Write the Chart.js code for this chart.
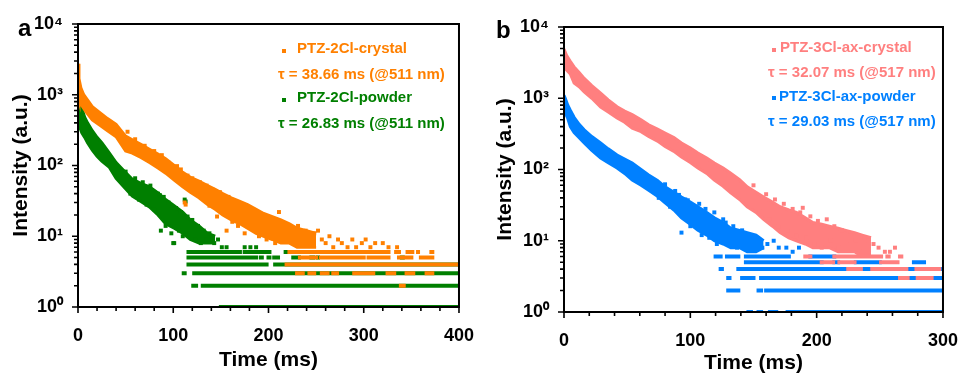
<!DOCTYPE html>
<html>
<head>
<meta charset="utf-8">
<script src="https://cdn.jsdelivr.net/npm/chart.js@4.4.1/dist/chart.umd.min.js"></script>
<style>
  body { margin: 0; width: 968px; height: 376px; background: #fff; position: relative; overflow: hidden; font-family: "Liberation Sans", Arial, sans-serif; }
  canvas { position: absolute; top: 0; }
  .lbl { position: absolute; font-weight: bold; font-size: 15px; line-height: 17px; white-space: nowrap; }
  .mk { position: absolute; width: 4px; height: 4px; }
  .panel { position: absolute; font-weight: bold; font-size: 24px; line-height: 24px; }
</style>
</head>
<body>
<canvas id="chartA" width="484" height="376" style="left:0"></canvas>
<canvas id="chartB" width="484" height="376" style="left:484px"></canvas>

<div class="panel" style="left:18px; top:16px">a</div>
<div class="panel" style="left:496px; top:18px">b</div>

<div class="mk" style="left:282px; top:49px; background:#ff8000"></div>
<div class="lbl" style="left:297px; top:39px; color:#ff8000">PTZ-2Cl-crystal</div>
<div class="lbl" style="left:278px; top:65px; color:#ff8000">τ = 38.66 ms (@511 nm)</div>
<div class="mk" style="left:282px; top:98px; background:#007f00"></div>
<div class="lbl" style="left:297px; top:88px; color:#007f00">PTZ-2Cl-powder</div>
<div class="lbl" style="left:278px; top:114px; color:#007f00">τ = 26.83 ms (@511 nm)</div>

<div class="mk" style="left:772px; top:48px; background:#ff7f7f"></div>
<div class="lbl" style="left:780px; top:38px; color:#ff7f7f">PTZ-3Cl-ax-crystal</div>
<div class="lbl" style="left:768px; top:63px; color:#ff7f7f">τ = 32.07 ms (@517 nm)</div>
<div class="mk" style="left:772px; top:96px; background:#0080ff"></div>
<div class="lbl" style="left:779px; top:87px; color:#0080ff">PTZ-3Cl-ax-powder</div>
<div class="lbl" style="left:768px; top:112px; color:#0080ff">τ = 29.03 ms (@517 nm)</div>

<script>
// panel a: PTZ-2Cl
const crystalATime  = [0, 1, 3, 6, 9, 15, 23, 31, 40, 50, 57, 66, 75, 84, 92, 101, 110, 118, 127, 136, 144, 152, 161, 170, 178, 187, 195, 204, 213, 222, 230, 240, 250];
const crystalAUpper = [2750, 1700, 1250, 1000, 880, 680, 560, 460, 380, 260, 230, 200, 170, 145, 125, 100, 80, 68, 60, 52, 46, 40, 35, 31, 28, 24, 21, 19, 17, 15, 13, 12, 11];
const crystalALower = [970, 850, 740, 640, 560, 440, 370, 310, 255, 160, 150, 130, 110, 92, 78, 62, 50, 42, 35, 28, 24, 20, 17, 15, 13, 11, 10, 9, 8, 8, 7, 7, 7];
const crystalAScatter = [[52, 300], [60, 235], [70, 190], [80, 160], [88, 140], [95, 110], [104, 98], [108, 88], [112, 30], [113, 28], [115, 72], [120, 66], [124, 41], [128, 58], [131, 35], [135, 52], [138, 27], [141, 46], [146, 19], [149, 42], [153, 24], [156, 12], [158, 36], [162, 16], [165, 31], [168, 14], [172, 27], [175, 11], [179, 25], [183, 13], [186, 22], [190, 10], [194, 19], [198, 9], [203, 17], [207, 8], [211, 22], [214, 15], [218, 9], [222, 13], [226, 8], [231, 14], [235, 9], [239, 12], [243, 8], [248, 11], [252, 12], [256, 9], [260, 8], [264, 10], [268, 7], [273, 9], [277, 8], [283, 7], [288, 9], [292, 7], [298, 8], [302, 9], [307, 7], [312, 8], [320, 8], [326, 7], [335, 7]];
const crystalALevels = [[6, 222, 258], [6, 260, 275], [6, 279, 299], [6, 301, 326], [6, 334, 337], [6, 346, 351], [6, 357, 358], [6, 371, 372],
  [5, 233, 250], [5, 255, 300], [5, 305, 326], [5, 337, 350], [5, 360, 372],
  [4, 219, 232], [4, 236, 250], [4, 253, 265], [4, 268, 290], [4, 292, 334], [4, 337, 352], [4, 355, 400],
  [3, 230, 236], [3, 243, 248], [3, 256, 262], [3, 268, 272], [3, 290, 310], [3, 325, 332], [3, 345, 352], [3, 366, 372],
  [2, 339, 342]];

const powderATime  = [0, 1, 2, 4, 7, 10, 15, 20, 25, 33, 40, 48, 57, 66, 75, 84, 92, 101, 110, 118, 127, 136, 144];
const powderAUpper = [1200, 1000, 900, 650, 480, 400, 310, 250, 210, 150, 110, 85, 64, 56, 50, 41, 33, 27, 22, 17, 14, 11, 10];
const powderALower = [600, 420, 340, 290, 250, 210, 165, 135, 115, 94, 66, 50, 37, 31, 26, 20, 15, 13, 11, 9, 8, 8, 8];
const powderAScatter = [[50, 82], [55, 40], [60, 66], [64, 33], [68, 58], [72, 28], [76, 52], [80, 24], [84, 40], [86, 38], [87, 12], [90, 36], [92, 14], [95, 30], [98, 11], [100, 8], [101, 8], [103, 25], [106, 12], [108, 22], [110, 10], [112, 33], [113, 31], [115, 19], [117, 11], [120, 17], [123, 9], [126, 14], [129, 8], [132, 12], [135, 9], [138, 11], [140, 10], [143, 8], [147, 9], [151, 7], [156, 7], [175, 7], [181, 7], [187, 7]];
const powderALevels = [[6, 116, 161], [6, 164, 170], [6, 175, 196], [6, 200, 201], [6, 218, 219], [6, 276, 277], [6, 286, 287],
  [5, 116, 171], [5, 174, 187], [5, 192, 193], [5, 200, 201], [5, 206, 210], [5, 226, 232], [5, 245, 247], [5, 252, 253], [5, 340, 341],
  [4, 116, 117], [4, 121, 198], [4, 207, 400],
  [3, 111, 112], [3, 122, 400],
  [2, 121, 124], [2, 131, 139], [2, 142, 400],
  [1, 150, 400]];

// panel b: PTZ-3Cl-ax
const crystalBTime  = [0, 2, 5, 8, 12, 16, 22, 29, 35, 42, 48, 54, 61, 67, 74, 80, 87, 93, 100, 106, 113, 119, 126, 132, 139, 145, 152, 158, 165, 171, 178, 184, 191, 197, 204, 210, 217, 223, 230, 236, 243];
const crystalBUpper = [4900, 4000, 3300, 2750, 2300, 1900, 1500, 1180, 950, 760, 660, 590, 500, 425, 370, 325, 280, 235, 200, 170, 145, 123, 105, 89, 72, 57, 48, 41, 35, 30, 27, 25, 21, 18, 17, 16, 15, 14, 13, 12, 11];
const crystalBLower = [2750, 2500, 2200, 1630, 1450, 1230, 1000, 750, 640, 530, 460, 380, 340, 290, 250, 210, 180, 150, 125, 105, 88, 71, 58, 47, 38, 30, 25, 20, 16, 13, 11, 10, 9, 8, 8, 8, 7, 7, 7, 6, 6];
const crystalBScatter = [[150, 60], [155, 26], [160, 45], [163, 20], [167, 38], [170, 16], [174, 33], [177, 14], [181, 28], [184, 12], [187, 25], [189, 29], [192, 11], [195, 22], [198, 9], [201, 19], [204, 8], [208, 20], [211, 10], [214, 16], [217, 8], [220, 14], [224, 9], [227, 12], [231, 10], [234, 8], [238, 11], [241, 9], [245, 9], [249, 8], [254, 7], [258, 7], [262, 8]];
const crystalBLevels = [[6, 191, 195], [6, 214, 251], [6, 256, 257], [6, 266, 267],
  [5, 204, 213], [5, 218, 230], [5, 251, 264],
  [4, 225, 235], [4, 244, 255], [4, 257, 271], [4, 279, 286], [4, 288, 297],
  [3, 266, 272], [3, 280, 291]];

const powderBTime  = [0, 1, 3, 5, 8, 12, 16, 22, 29, 35, 42, 48, 54, 61, 67, 74, 80, 87, 93, 100, 106, 113, 119, 126, 132, 139, 145, 152, 158];
const powderBUpper = [1100, 1000, 800, 680, 540, 430, 360, 290, 235, 195, 160, 140, 123, 100, 84, 70, 57, 48, 41, 35, 30, 25, 21, 18, 15, 14, 13, 12, 10];
const powderBLower = [680, 620, 520, 400, 330, 280, 235, 185, 145, 125, 105, 88, 71, 60, 51, 42, 34, 27, 21, 17, 14, 12, 10, 9, 8, 8, 7, 7, 8];
const powderBScatter = [[70, 72], [75, 40], [80, 62], [84, 30], [88, 50], [91, 44], [93, 13], [96, 38], [98, 37], [100, 16], [104, 20], [107, 33], [109, 12], [112, 28], [115, 11], [119, 25], [121, 9], [124, 13], [126, 20], [128, 18], [131, 9], [134, 16], [137, 8], [141, 14], [145, 11], [148, 8], [153, 11], [157, 8], [161, 9], [166, 10], [170, 8], [176, 8], [181, 7], [186, 8]];
const powderBLevels = [[6, 120, 124], [6, 129, 133], [6, 135, 138], [6, 144, 170], [6, 173, 178], [6, 195, 214],
  [5, 144, 204], [5, 214, 217], [5, 231, 250], [5, 277, 285],
  [4, 124, 125], [4, 138, 146], [4, 148, 169], [4, 172, 195], [4, 196, 209], [4, 210, 222], [4, 225, 300],
  [3, 130, 131], [3, 141, 150], [3, 156, 300],
  [2, 130, 138], [2, 154, 156], [2, 160, 163], [2, 166, 174], [2, 177, 300],
  [1, 146, 148], [1, 154, 156], [1, 163, 168], [1, 177, 183], [1, 186, 300]];

const yTickValues = [1, 10, 100, 1000, 10000];
const yTickLabels = ['10⁰', '10¹', '10²', '10³', '10⁴'];

Chart.defaults.font.family = '"Liberation Sans", Arial, sans-serif';
Chart.defaults.color = '#000';

function bandSets(time, upper, lower, color, order) {
  return [
    { data: time.map((t, i) => ({ x: t, y: upper[i] })), borderColor: color, borderWidth: 3, pointRadius: 0, fill: false, order },
    { data: time.map((t, i) => ({ x: t, y: lower[i] })), borderColor: color, borderWidth: 3, pointRadius: 0, fill: '-1', backgroundColor: color, order }
  ];
}

function scatterSet(pairs, color, order) {
  return { data: pairs.map(p => ({ x: p[0], y: p[1] })), showLine: false, pointStyle: 'rect', pointRadius: 2.8,
    backgroundColor: color, borderWidth: 0, order };
}

function levelSet(levels, color, order) {
  const data = [];
  levels.forEach(([lv, t0, t1]) => {
    data.push({ x: t0, y: lv }, { x: t1, y: lv }, { x: t1, y: null });
  });
  return { data, borderColor: color, borderWidth: 4, borderCapStyle: 'square', pointRadius: 0, spanGaps: false, fill: false, order };
}

// frame + tick marks drawn through the chart's scales
const frameTicks = {
  id: 'frameTicks',
  afterDatasetsDraw(chart) {
    const { ctx, chartArea: a, scales: { x, y } } = chart;
    ctx.save();
    ctx.strokeStyle = '#000';
    ctx.lineWidth = 1.6;
    ctx.beginPath();
    for (let t = x.min; t <= x.max; t += 20) {
      const px = x.getPixelForValue(t);
      const len = t % 100 === 0 ? 6 : 4;
      ctx.moveTo(px, a.bottom);
      ctx.lineTo(px, a.bottom + len);
    }
    for (let d = 1; d < 10000; d *= 10) {
      for (let m = 1; m <= 10; m++) {
        const py = y.getPixelForValue(d * m);
        const len = (m === 1 || m === 10) ? 6 : 4;
        ctx.moveTo(a.left, py);
        ctx.lineTo(a.left - len, py);
      }
    }
    ctx.stroke();
    ctx.lineWidth = 2;
    ctx.strokeRect(a.left, a.top, a.right - a.left, a.bottom - a.top);
    ctx.restore();
  }
};

function makePanel(id, cfg) {
  return new Chart(document.getElementById(id), {
    type: 'line',
    data: { datasets: cfg.datasets },
    options: {
      responsive: false,
      animation: false,
      devicePixelRatio: 1,
      events: [],
      layout: { padding: { top: cfg.top, right: cfg.right, left: 0, bottom: 0 } },
      plugins: { legend: { display: false }, tooltip: { enabled: false } },
      scales: {
        x: {
          type: 'linear', min: 0, max: cfg.xMax,
          grid: { display: false }, border: { display: false },
          ticks: { stepSize: 100, padding: 10, font: { size: 18, weight: 'bold' } },
          title: { display: true, text: 'Time (ms)', font: { size: 21, weight: 'bold' }, padding: { top: 0, bottom: cfg.xTitlePad } },
          afterFit: s => { s.height = cfg.xHeight; }
        },
        y: {
          type: 'logarithmic', min: 1, max: 10000,
          grid: { display: false }, border: { display: false },
          afterBuildTicks: s => { s.ticks = yTickValues.map(v => ({ value: v })); },
          ticks: { padding: 7, font: { size: 18, weight: 'bold' },
            callback: v => yTickLabels[yTickValues.indexOf(v)] },
          title: { display: true, text: 'Intensity (a.u.)', font: { size: 21, weight: 'bold' }, padding: { top: 9, bottom: 0 } },
          afterFit: s => { s.width = cfg.yWidth; }
        }
      }
    },
    plugins: [frameTicks]
  });
}

makePanel('chartA', {
  xMax: 400, top: 24, right: 20, yWidth: 78, xHeight: 69, xTitlePad: 3,
  datasets: [
    scatterSet(crystalAScatter, '#ff8000', 1),
    ...bandSets(crystalATime, crystalAUpper, crystalALower, '#ff8000', 2),
    levelSet(crystalALevels, '#ff8000', 3),
    scatterSet(powderAScatter, '#007f00', 4),
    ...bandSets(powderATime, powderAUpper, powderALower, '#007f00', 5),
    levelSet(powderALevels, '#007f00', 6)
  ]
});

makePanel('chartB', {
  xMax: 300, top: 27, right: 18, yWidth: 80, xHeight: 64, xTitlePad: 0,
  datasets: [
    scatterSet(crystalBScatter, '#ff7f7f', 1),
    ...bandSets(crystalBTime, crystalBUpper, crystalBLower, '#ff7f7f', 2),
    levelSet(crystalBLevels, '#ff7f7f', 3),
    scatterSet(powderBScatter, '#0080ff', 4),
    ...bandSets(powderBTime, powderBUpper, powderBLower, '#0080ff', 5),
    levelSet(powderBLevels, '#0080ff', 6)
  ]
});
</script>
</body>
</html>
